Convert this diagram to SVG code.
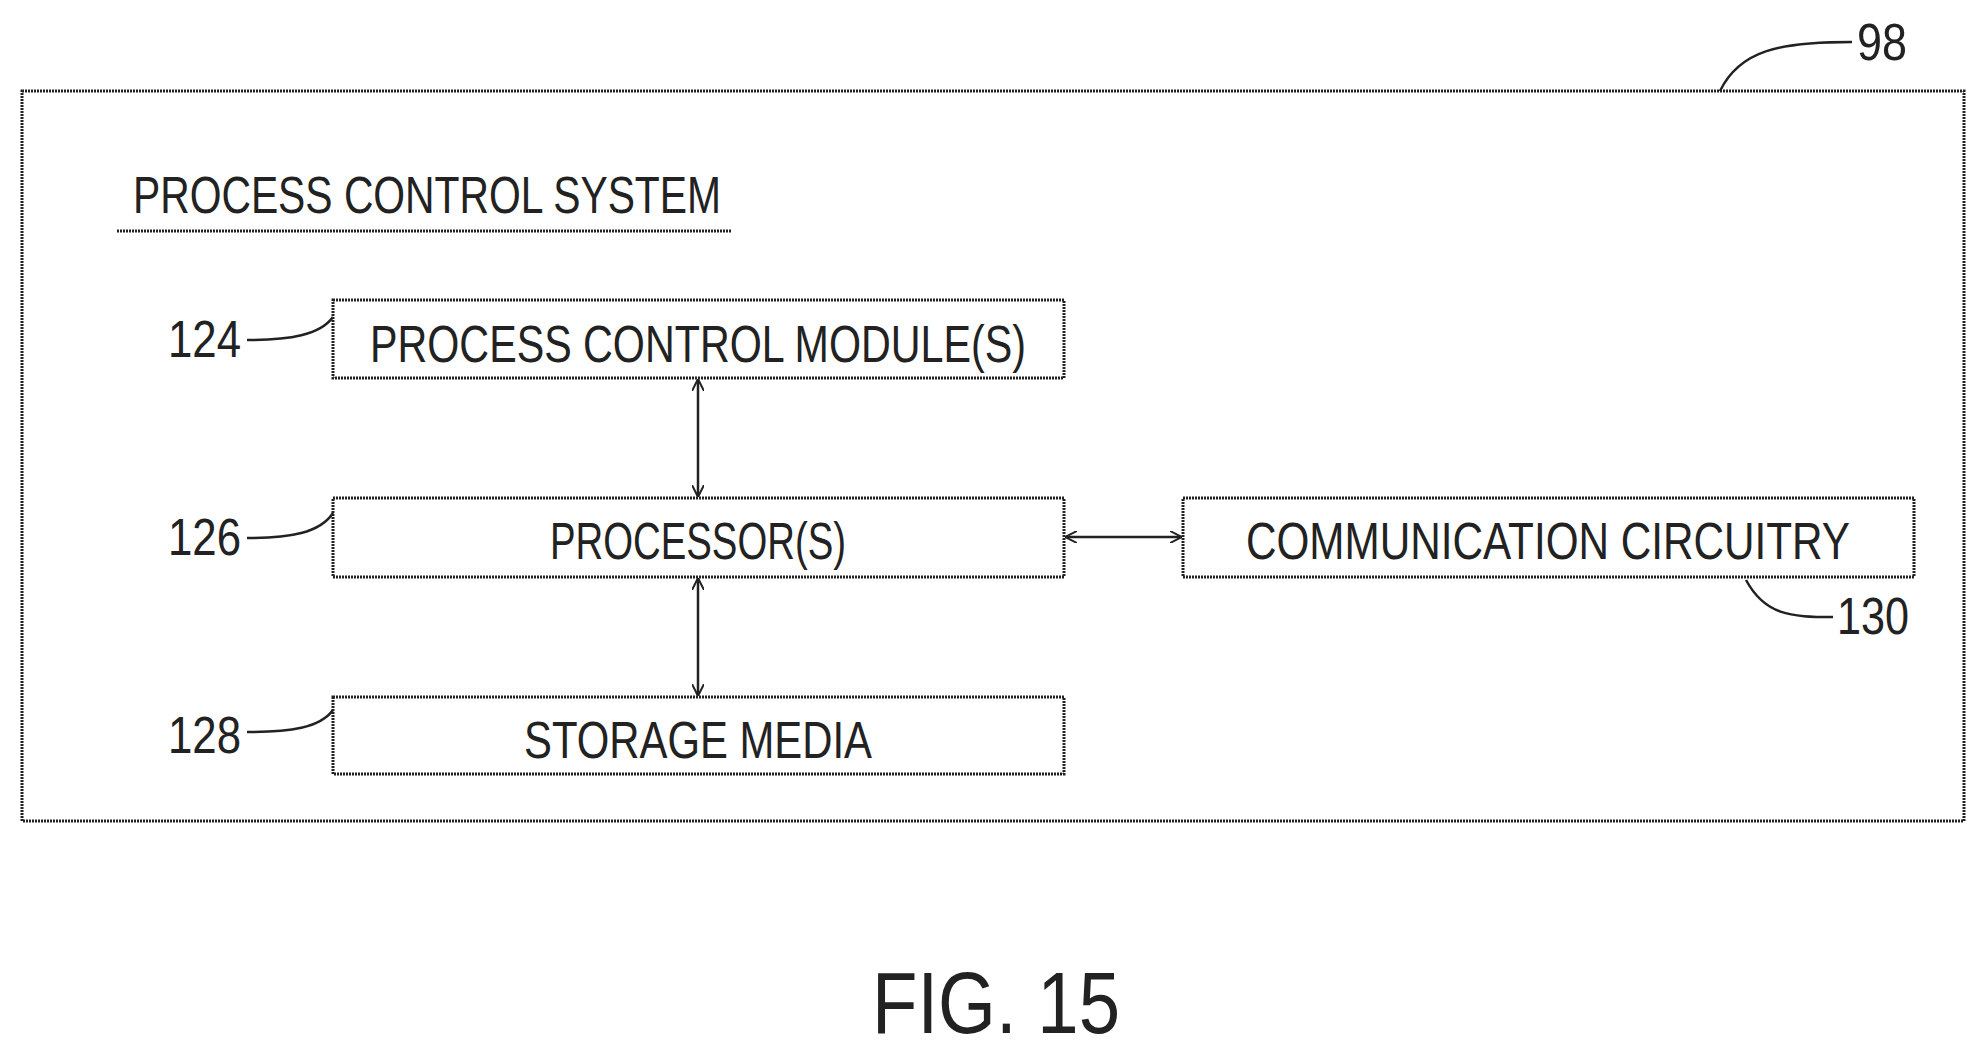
<svg xmlns="http://www.w3.org/2000/svg" width="1987" height="1055" viewBox="0 0 1987 1055">
<style>
.b{fill:none;stroke:#222;stroke-width:3;stroke-dasharray:2 1}
.t{font-family:"Liberation Sans",sans-serif;font-size:52px;fill:#222;text-anchor:middle}
.l{font-family:"Liberation Sans",sans-serif;font-size:52px;fill:#222}
.c{fill:none;stroke:#222;stroke-width:2.5}
</style>
<defs><marker id="a" viewBox="0 0 12 12" refX="11" refY="6" markerWidth="12" markerHeight="12" markerUnits="userSpaceOnUse" orient="auto-start-reverse"><path d="M0,0L12,6L0,12" fill="none" stroke="#222" stroke-width="2"/></marker></defs>
<rect width="1987" height="1055" fill="#fff"/>
<g id="system"><rect class="b" x="22" y="91" width="1942" height="730"/>
<text class="l" x="133" y="213" textLength="588" lengthAdjust="spacingAndGlyphs">PROCESS CONTROL SYSTEM</text>
<line class="b" x1="117" y1="231" x2="731" y2="231"/>
<path class="c" d="M1720,91 C1740,50 1780,42 1852,42"/><text class="l" x="1857" y="60" textLength="50" lengthAdjust="spacingAndGlyphs">98</text></g>
<g id="n124"><rect class="b" x="333" y="300" width="731" height="78"/><text class="t" x="698" y="362" textLength="656" lengthAdjust="spacingAndGlyphs">PROCESS CONTROL MODULE(S)</text>
<text class="l" x="168" y="357" textLength="73" lengthAdjust="spacingAndGlyphs">124</text><path class="c" d="M247,340 C290,340 320,335 333,317"/></g>
<g id="n126"><rect class="b" x="333" y="498" width="731" height="79"/><text class="t" x="698" y="559" textLength="296" lengthAdjust="spacingAndGlyphs">PROCESSOR(S)</text>
<text class="l" x="168" y="555" textLength="73" lengthAdjust="spacingAndGlyphs">126</text><path class="c" d="M247,538 C290,538 320,533 333,513"/></g>
<g id="n128"><rect class="b" x="333" y="697" width="731" height="77"/><text class="t" x="698" y="758" textLength="348" lengthAdjust="spacingAndGlyphs">STORAGE MEDIA</text>
<text class="l" x="168" y="753" textLength="73" lengthAdjust="spacingAndGlyphs">128</text><path class="c" d="M247,732 C290,732 320,728 333,710"/></g>
<g id="n130"><rect class="b" x="1183" y="498" width="731" height="79"/><text class="t" x="1548" y="559" textLength="604" lengthAdjust="spacingAndGlyphs">COMMUNICATION CIRCUITRY</text>
<text class="l" x="1837" y="634" textLength="72" lengthAdjust="spacingAndGlyphs">130</text><path class="c" d="M1746,580 C1765,615 1790,617 1833,617"/></g>
<g id="connectors">
<line class="c" x1="698" y1="380" x2="698" y2="496" marker-start="url(#a)" marker-end="url(#a)"/>
<line class="c" x1="698" y1="579" x2="698" y2="695" marker-start="url(#a)" marker-end="url(#a)"/>
<line class="c" x1="1066" y1="537" x2="1181" y2="537" marker-start="url(#a)" marker-end="url(#a)"/>
</g>
<text class="l" x="872" y="1033" style="font-size:88px" textLength="248" lengthAdjust="spacingAndGlyphs">FIG. 15</text>
</svg>
